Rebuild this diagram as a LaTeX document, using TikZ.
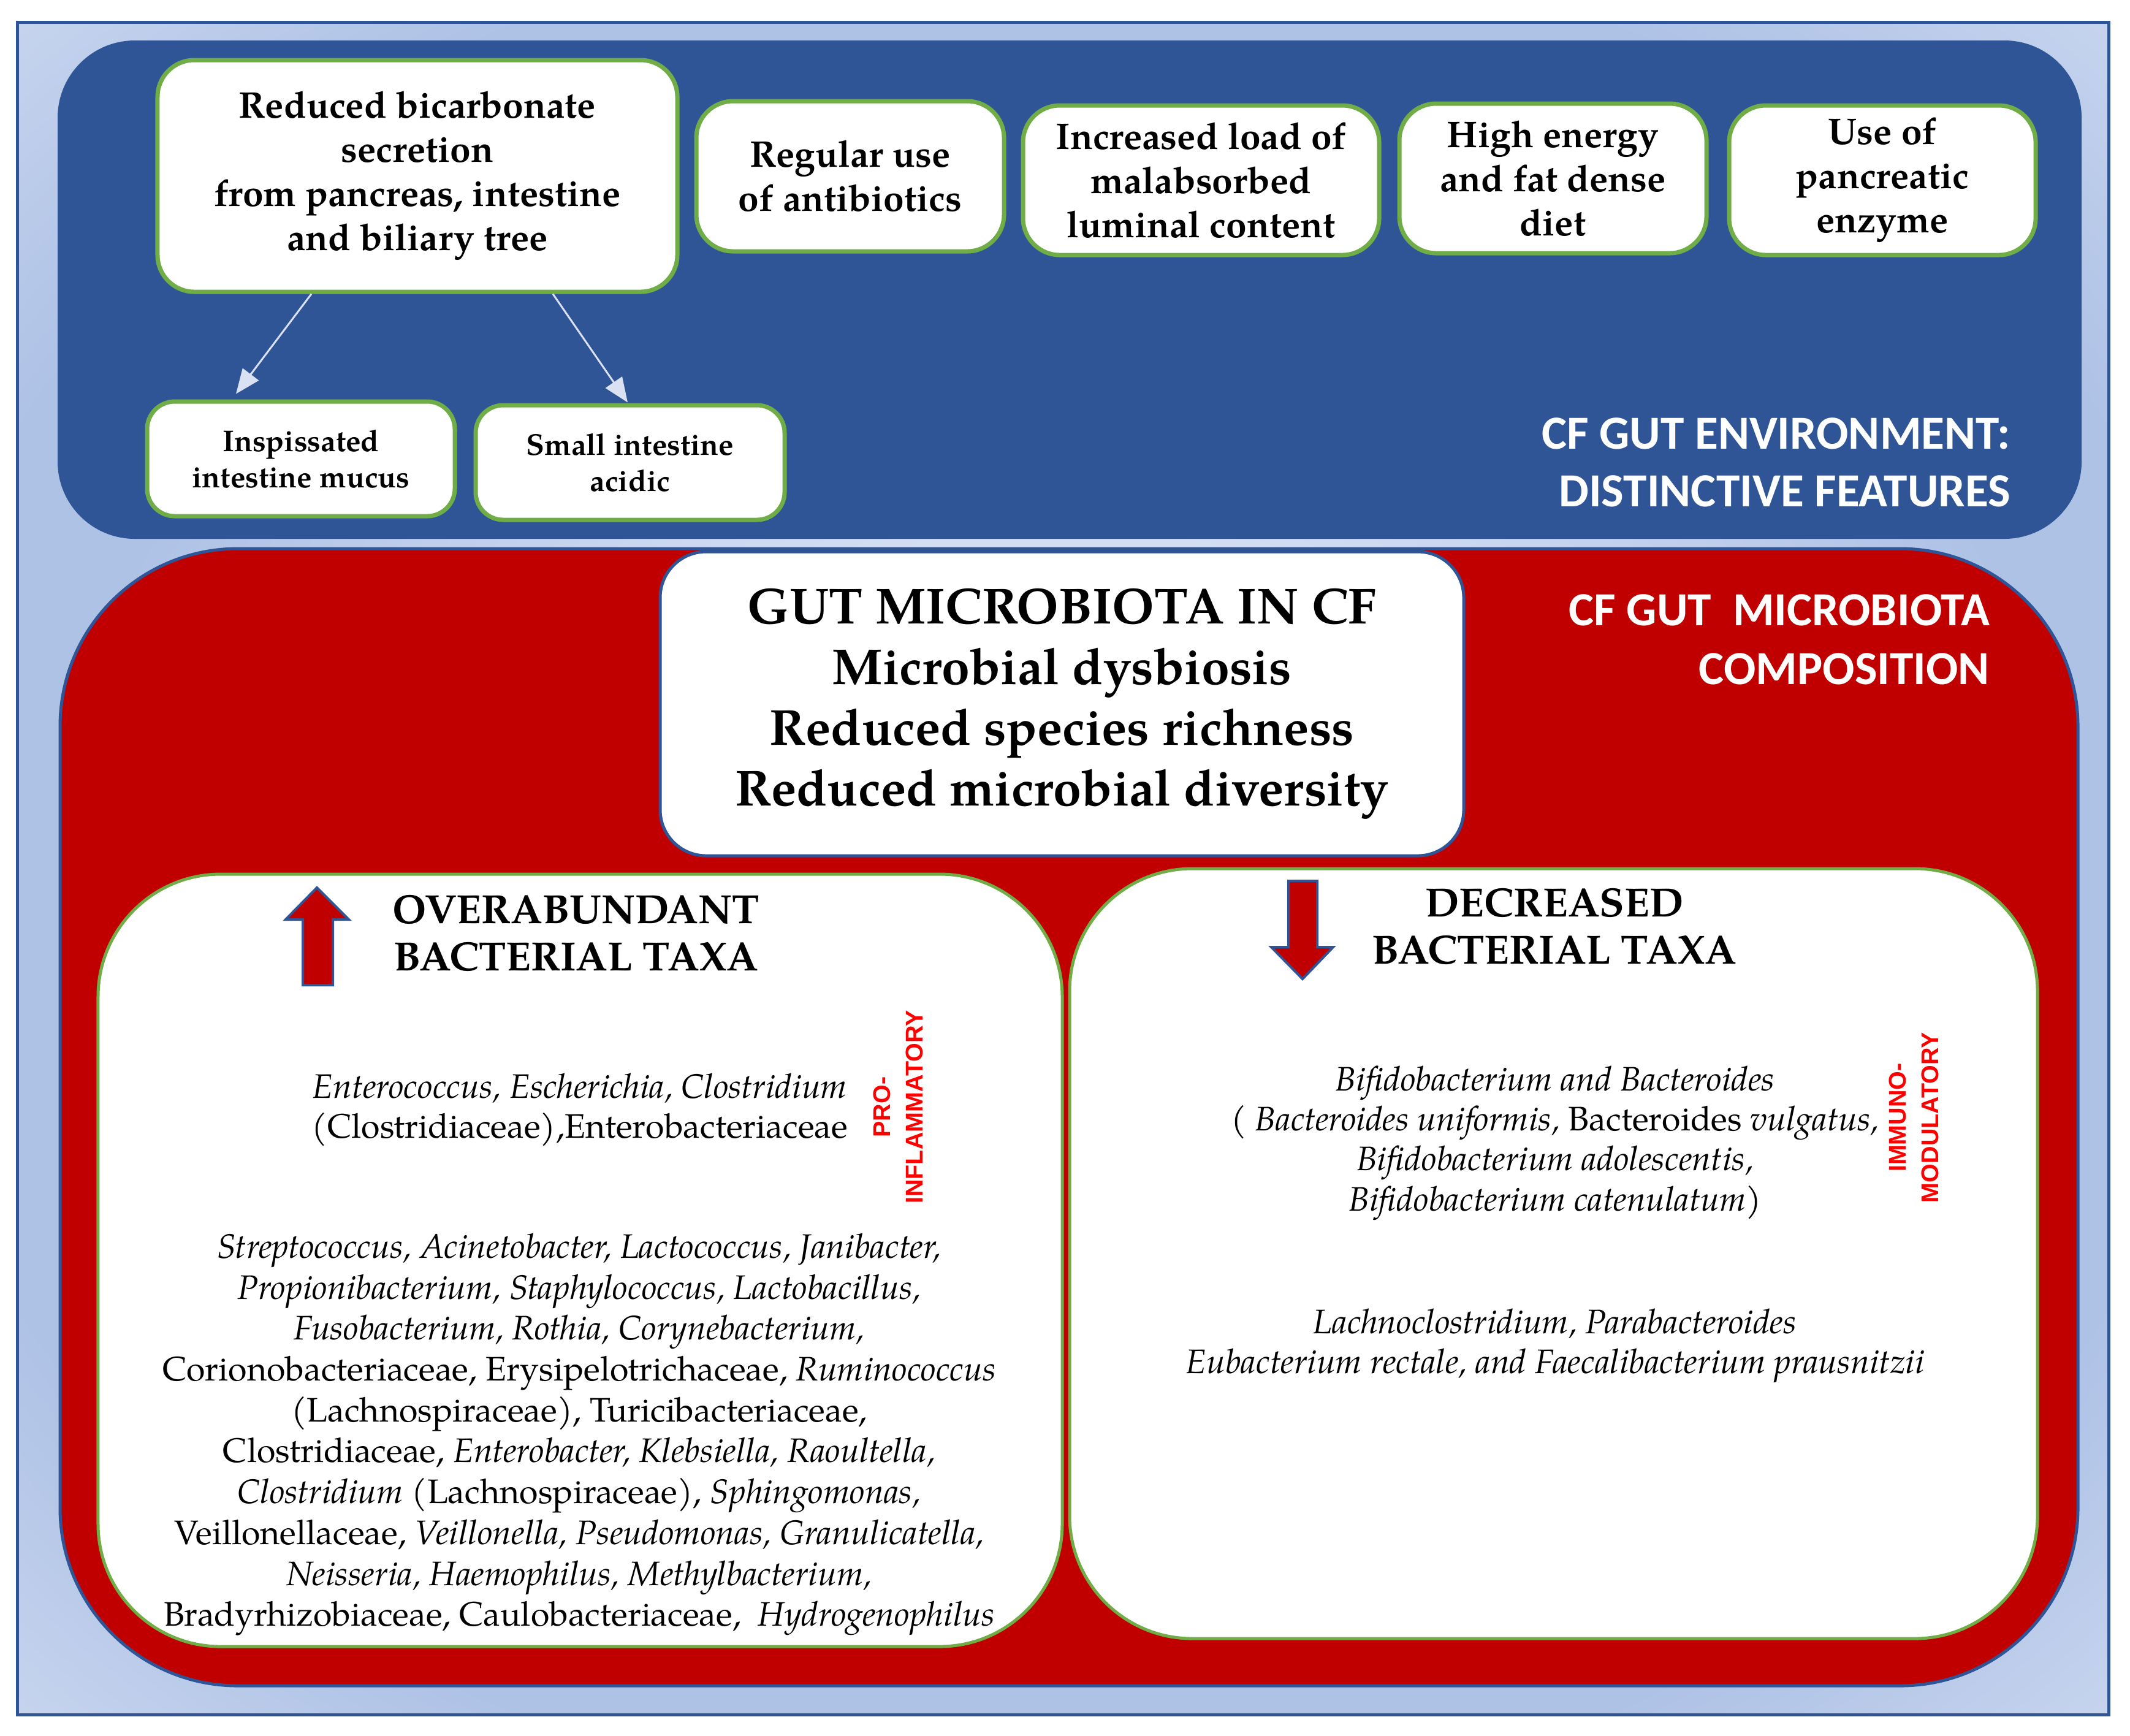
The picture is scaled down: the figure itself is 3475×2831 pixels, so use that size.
\documentclass[tikz,border=0pt]{standalone}
\usepackage{fontspec}
\setmainfont{texgyrepagella}[Extension=.otf, UprightFont=*-regular, BoldFont=*-bold, ItalicFont=*-italic, BoldItalicFont=*-bolditalic]
\newfontfamily\calfont{Carlito}
\newfontfamily\arialfont{Liberation Sans}
\usetikzlibrary{calc,arrows.meta}
\definecolor{frameblue}{HTML}{2F5597}
\definecolor{panelblue}{HTML}{2F5597}
\definecolor{cfred}{HTML}{C00000}
\definecolor{boxgreen}{HTML}{70AD47}
\definecolor{bglight}{HTML}{D3DEF2}
\definecolor{bgmid}{HTML}{AEC2E6}
\definecolor{bgcorner}{HTML}{C8D5EE}
\definecolor{connlight}{HTML}{D9E1F2}
\definecolor{labelred}{HTML}{FF0000}
\pgfdeclareradialshading{bgshade}{\pgfpoint{0bp}{0bp}}{color(0bp)=(bglight); color(10bp)=(bglight); color(24bp)=(bgmid); color(28bp)=(bgmid); color(36bp)=(bgcorner); color(50bp)=(bgcorner)}
\tikzset{
  tbox/.style={draw=boxgreen, line width=1.4pt, fill=white, rounded corners=12pt, align=center, inner sep=0pt, font=\bfseries\fontsize{12.1}{14.4}\selectfont},
  sbox/.style={tbox, rounded corners=9pt, font=\bfseries\fontsize{9.8}{11.8}\selectfont},
  cbox/.style={draw=frameblue, line width=1pt, fill=white, rounded corners=15pt, align=center, inner sep=0pt, font=\bfseries\fontsize{16.5}{19.8}\selectfont},
  gbox/.style={draw=boxgreen, line width=1pt, fill=white, rounded corners=40pt, inner sep=0pt},
  bodytxt/.style={inner sep=0pt, anchor=base, font=\fontsize{11.1}{13.4}\selectfont},
  headtxt/.style={inner sep=0pt, anchor=base, font=\bfseries\fontsize{13.3}{15.4}\selectfont},
  paneltxt/.style={inner sep=0pt, anchor=base east, text=white, font=\calfont\bfseries\fontsize{15.5}{18}\selectfont},
  sidelabel/.style={inner sep=0pt, rotate=90, align=center, text=labelred, font=\arialfont\bfseries\fontsize{7.9}{10.6}\selectfont},
  conn/.style={draw=connlight, line width=0.6pt, -{Triangle[length=8pt,width=6.5pt]}},
  bigarrow/.style={fill=cfred, draw=frameblue, line width=0.8pt}
}
\begin{document}
\begin{tikzpicture}[x=0.2pt, y=-0.2pt]
\useasboundingbox (0,0) rectangle (3475,2831);
% frame
\shadedraw[shading=bgshade, draw=frameblue, line width=1pt] (28,36) rectangle (3440,2797);
% blue panel
\draw[fill=panelblue, draw=panelblue, rounded corners=25pt] (95,67) rectangle (3395,878);
% red panel
\draw[fill=cfred, draw=frameblue, line width=1pt, rounded corners=58pt] (98,895) rectangle (3390,2750);

% top boxes
\node[tbox, minimum width=169.6pt, minimum height=75.6pt] (bic) at (681,287) {Reduced bicarbonate\\secretion\\from pancreas, intestine\\and biliary tree};
\node[tbox, minimum width=100.4pt, minimum height=49pt] (reg) at (1387,287.5) {Regular use\\of antibiotics};
\node[tbox, minimum width=116.2pt, minimum height=48.8pt] (inc) at (1959.5,294) {Increased load of\\malabsorbed\\luminal content};
\node[tbox, minimum width=100.2pt, minimum height=48.8pt] (high) at (2533.5,291) {High energy\\and fat dense\\diet};
\node[tbox, minimum width=100pt, minimum height=48.8pt] (useof) at (3071,294) {Use of\\pancreatic\\enzyme};
\node[sbox, minimum width=100.4pt, minimum height=37.4pt] (insp) at (491,748.5) {Inspissated\\intestine mucus};
\node[sbox, minimum width=100.8pt, minimum height=37.4pt] (small) at (1028,754.5) {Small intestine\\acidic};

\draw[conn] ($(bic.south)+(-173,0)$) -- ($(insp.north)+(-106,-9)$);
\draw[conn] ($(bic.south)+(221,0)$) -- ($(small.north)+(-4,-1)$);

\node[paneltxt] (envA) at (3281,732) {CF GUT ENVIRONMENT:};
\node[paneltxt] (envB) at (3281,826) {DISTINCTIVE FEATURES};

% center box
\node[cbox, minimum width=262.2pt, minimum height=99.2pt] (gut) at (1732.5,1148) {GUT MICROBIOTA IN CF\\Microbial dysbiosis\\Reduced species richness\\Reduced microbial diversity};

\node[paneltxt] (compA) at (3247,1020) {CF GUT\ \ MICROBIOTA};
\node[paneltxt] (compB) at (3247,1116) {COMPOSITION};

% green boxes
\node[gbox, minimum width=314.6pt, minimum height=252pt] (over) at (946.5,2056) {};
\node[gbox, minimum width=315.8pt, minimum height=251.2pt] (decr) at (2534.5,2045) {};

% big arrows
\draw[bigarrow] (517,1448) -- (569,1500) -- (543,1500) -- (543,1607) -- (494,1607) -- (494,1500) -- (466,1500) -- cycle;
\draw[bigarrow] (2102,1437) -- (2149,1437) -- (2149,1545) -- (2175,1545) -- (2125,1597) -- (2074,1545) -- (2102,1545) -- cycle;

\node[headtxt] (overA) at (940,1506) {OVERABUNDANT};
\node[headtxt] (overB) at (940,1583) {BACTERIAL TAXA};
\node[headtxt] (decA) at (2536,1495) {DECREASED};
\node[headtxt] (decB) at (2536,1572) {BACTERIAL TAXA};

% left texts
\node[bodytxt] (p1) at (946,1791) {\textit{Enterococcus, Escherichia, Clostridium}};
\node[bodytxt] (p2) at (946,1856) {(Clostridiaceae),Enterobacteriaceae};
\node[sidelabel] (pro) at (1465,1806) {PRO-\\INFLAMMATORY};

\node[bodytxt] (l1) at (945,2052.4) {\textit{Streptococcus, Acinetobacter, Lactococcus, Janibacter,}};
\node[bodytxt] (l2) at (945,2119.1) {\textit{Propionibacterium, Staphylococcus, Lactobacillus,}};
\node[bodytxt] (l3) at (945,2185.8) {\textit{Fusobacterium, Rothia, Corynebacterium,}};
\node[bodytxt] (l4) at (945,2252.5) {Corionobacteriaceae, Erysipelotrichaceae, \textit{Ruminococcus}};
\node[bodytxt] (l5) at (945,2319.2) {(Lachnospiraceae), Turicibacteriaceae,};
\node[bodytxt] (l6) at (945,2385.9) {Clostridiaceae, \textit{Enterobacter, Klebsiella, Raoultella,}};
\node[bodytxt] (l7) at (945,2452.6) {\textit{Clostridium} (Lachnospiraceae), \textit{Sphingomonas,}};
\node[bodytxt] (l8) at (945,2519.3) {Veillonellaceae, \textit{Veillonella, Pseudomonas, Granulicatella,}};
\node[bodytxt] (l9) at (945,2586) {\textit{Neisseria, Haemophilus, Methylbacterium,}};
\node[bodytxt] (l10) at (945,2652.7) {Bradyrhizobiaceae, Caulobacteriaceae,\ \ \textit{Hydrogenophilus}};

% right texts
\node[bodytxt] (r1) at (2537,1779) {\textit{Bifidobacterium and Bacteroides}};
\node[bodytxt] (r2) at (2537,1844) {\textit{( Bacteroides uniformis,} Bacteroides \textit{vulgatus,}};
\node[bodytxt] (r3) at (2537,1909) {\textit{Bifidobacterium adolescentis,}};
\node[bodytxt] (r4) at (2537,1975) {\textit{Bifidobacterium catenulatum)}};
\node[sidelabel] (immuno) at (3122,1823) {IMMUNO-\\MODULATORY};
\node[bodytxt] (r5) at (2537,2175) {\textit{Lachnoclostridium, Parabacteroides}};
\node[bodytxt] (r6) at (2537,2240) {\textit{Eubacterium rectale, and Faecalibacterium prausnitzii}};
\end{tikzpicture}
\end{document}
